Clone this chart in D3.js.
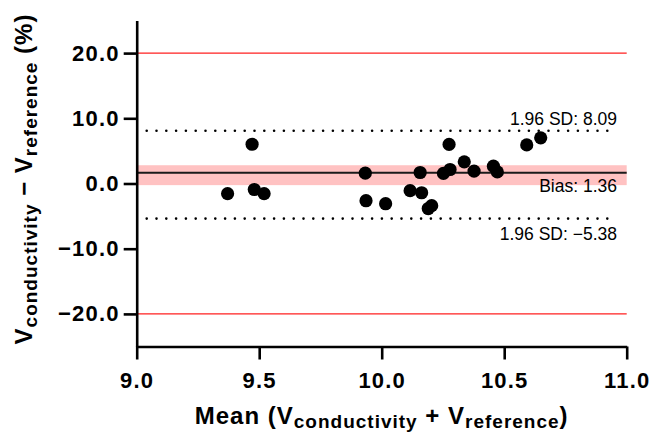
<!DOCTYPE html>
<html lang="en">
<head>
<meta charset="UTF-8">
<title>Bland-Altman</title>
<script src="https://cdn.jsdelivr.net/npm/d3@7"></script>
<style>
    body { margin: 0; background: #fff; }
    text { font-family: "Liberation Sans", Arial, sans-serif; }
    .axis path, .axis line { stroke: #000; stroke-width: 2.6; }
    .axis text { font-size: 22px; font-weight: bold; fill: #000; letter-spacing: 1.2px; }
    .note { font-size: 17.5px; fill: #000; }
    .title { font-size: 24px; font-weight: bold; letter-spacing: 1px; }
</style>
</head>
<body>
<script>
    // data
    var meanVals = [9.471, 9.371, 9.48, 9.52, 9.933, 9.936, 10.016,
        10.157, 10.116, 10.163, 10.19, 10.204, 10.275, 10.252, 10.279,
        10.337, 10.377, 10.456, 10.472, 10.592, 10.649];
    var diffVals = [6.02, -1.56, -0.92, -1.56, 1.58, -2.64, -3.1,
        1.69, -1.1, -1.42, -3.84, -3.4, 5.99, 1.55, 2.15,
        3.32, 1.9, 2.65, 1.78, 5.92, 7.0];
    var xTicks = [9.0, 9.5, 10.0, 10.5, 11.0];
    var yTicks = [-20, -10, 0, 10, 20];
    var limitLines = [8.09, -5.38];
    var redLines = [20, -20];
    var biasLine = 1.63;
    var biasBand = [-0.25, 2.8];
    var notes = ["1.96 SD: 8.09", "Bias: 1.36", "1.96 SD: \u22125.38"];

    var svg = d3.select("body").append("svg")
        .attr("width", 651).attr("height", 432);

    var x = d3.scaleLinear().domain([9, 11]).range([136.7, 626.7]);
    var y = d3.scaleLinear().domain([-25, 25]).range([346.5, 20.5]);

    // confidence band for the bias
    svg.append("rect")
        .attr("x", x(9)).attr("width", x(11) - x(9))
        .attr("y", y(biasBand[1])).attr("height", y(biasBand[0]) - y(biasBand[1]))
        .attr("fill", "#ffc2c2");

    svg.selectAll(".red").data(redLines).enter().append("line")
        .attr("x1", x(9)).attr("x2", x(11))
        .attr("y1", d => y(d)).attr("y2", d => y(d))
        .attr("stroke", "#ff1f1f").attr("stroke-width", 1.4);

    svg.selectAll(".lim").data(limitLines).enter().append("line")
        .attr("x1", x(9) + 10).attr("x2", x(10.96))
        .attr("y1", d => y(d)).attr("y2", d => y(d))
        .attr("stroke", "#000").attr("stroke-width", 2.6)
        .attr("stroke-linecap", "round")
        .attr("stroke-dasharray", "0,9.8");

    svg.append("line")
        .attr("x1", x(9)).attr("x2", x(11))
        .attr("y1", y(biasLine)).attr("y2", y(biasLine))
        .attr("stroke", "#1a1a1a").attr("stroke-width", 2);

    svg.selectAll("circle").data(meanVals).enter().append("circle")
        .attr("cx", d => x(d))
        .attr("cy", (d, i) => y(diffVals[i]))
        .attr("r", 6.6)
        .attr("fill", "#000");

    // labels of the lines
    var noteY = [y(limitLines[0]) - 6, y(biasLine) + 19, y(limitLines[1]) + 21];
    svg.selectAll(".note").data(notes).enter().append("text")
        .attr("class", "note")
        .attr("x", 617).attr("y", (d, i) => noteY[i])
        .attr("text-anchor", "end")
        .text(d => d);

    svg.append("g").attr("class", "axis")
        .attr("transform", "translate(0," + y(-25) + ")")
        .call(d3.axisBottom(x).tickValues(xTicks).tickFormat(d3.format(".1f"))
            .tickSize(13).tickPadding(13).tickSizeOuter(0));

    svg.append("g").attr("class", "axis")
        .attr("transform", "translate(" + x(9) + ",0)")
        .call(d3.axisLeft(y).tickValues(yTicks).tickFormat(d3.format(".1f"))
            .tickSize(13).tickPadding(4).tickSizeOuter(0));

    // axis titles with subscripts
    var xt = svg.append("text").attr("class", "title")
        .attr("x", (x(9) + x(11)) / 2).attr("y", 424)
        .attr("text-anchor", "middle");
    xt.append("tspan").text("Mean (V");
    xt.append("tspan").attr("font-size", 19).attr("dy", 4).text("conductivity");
    xt.append("tspan").attr("dy", -4).text(" + V");
    xt.append("tspan").attr("font-size", 19).attr("dy", 4).text("reference");
    xt.append("tspan").attr("dy", -4).text(")");

    var yt = svg.append("text").attr("class", "title")
        .attr("transform", "translate(32,179) rotate(-90)")
        .attr("text-anchor", "middle");
    yt.append("tspan").text("V");
    yt.append("tspan").attr("font-size", 19).attr("dy", 5).text("conductivity");
    yt.append("tspan").attr("dy", -5).text(" \u2212 V");
    yt.append("tspan").attr("font-size", 19).attr("dy", 5).text("reference");
    yt.append("tspan").attr("dy", -5).text(" (%)");
</script>
</body>
</html>
